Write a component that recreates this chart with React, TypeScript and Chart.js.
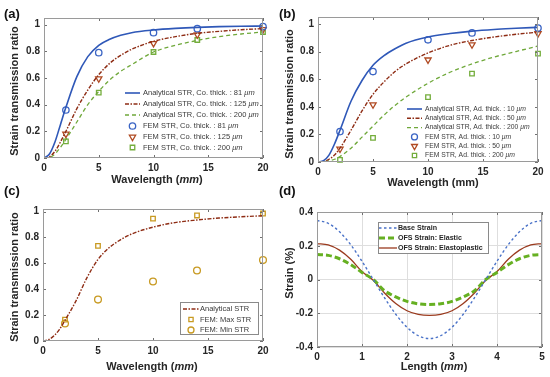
import React, { useEffect, useRef } from 'react';
import { Chart, registerables } from 'chart.js';
import { drawPoint } from 'chart.js/helpers';
Chart.register(...registerables);

const FONT = '"Liberation Sans", Arial, sans-serif';

// ---------- shared axes ----------
const wlCurve = [0, 0.5, 1, 1.5, 2, 3, 4, 5, 6, 7, 8, 10, 12, 14, 16, 18, 20];
const wlFem = [2, 5, 10, 14, 20];
const wlTicks = [0, 5, 10, 15, 20];
const strTicks = [0, 0.2, 0.4, 0.6, 0.8, 1];

// ---------- panel (a): coating thickness ----------
const aStr81 = [0, 0.03, 0.12, 0.25, 0.38, 0.61, 0.76, 0.845, 0.89, 0.92, 0.94, 0.96, 0.972, 0.98, 0.985, 0.988, 0.99];
const aStr125 = [0, 0.01, 0.05, 0.12, 0.2, 0.37, 0.51, 0.625, 0.71, 0.77, 0.815, 0.875, 0.91, 0.935, 0.95, 0.962, 0.97];
const aStr200 = [0, 0.005, 0.03, 0.08, 0.14, 0.27, 0.4, 0.5, 0.585, 0.65, 0.7, 0.795, 0.845, 0.882, 0.91, 0.93, 0.945];
const aFem81 = [0.36, 0.79, 0.94, 0.97, 0.985];
const aFem125 = [0.18, 0.595, 0.86, 0.925, 0.965];
const aFem200 = [0.125, 0.49, 0.795, 0.885, 0.945];

// ---------- panel (b): adhesive thickness ----------
const bStr10 = [0, 0.01, 0.05, 0.13, 0.23, 0.44, 0.59, 0.7, 0.77, 0.82, 0.86, 0.905, 0.93, 0.948, 0.96, 0.968, 0.975];
const bStr50 = [0, 0.003, 0.02, 0.05, 0.1, 0.23, 0.37, 0.49, 0.58, 0.655, 0.71, 0.79, 0.845, 0.88, 0.905, 0.925, 0.94];
const bStr200 = [0, 0.002, 0.01, 0.02, 0.04, 0.1, 0.18, 0.26, 0.34, 0.41, 0.47, 0.57, 0.65, 0.71, 0.76, 0.8, 0.84];
const bFem10 = [0.22, 0.655, 0.885, 0.935, 0.97];
const bFem50 = [0.095, 0.415, 0.74, 0.85, 0.93];
const bFem200 = [0.015, 0.175, 0.47, 0.64, 0.785];

// ---------- panel (c): max / min STR ----------
const cStr = [0, 0.01, 0.04, 0.09, 0.16, 0.31, 0.49, 0.63, 0.72, 0.78, 0.825, 0.88, 0.915, 0.935, 0.95, 0.96, 0.968];
const cFemMax = [0.165, 0.735, 0.945, 0.97, 0.985];
const cFemMin = [0.135, 0.32, 0.46, 0.545, 0.625];

// ---------- panel (d): strain along length ----------
const lenX = [0, 0.25, 0.5, 0.75, 1, 1.25, 1.5, 1.75, 2, 2.25, 2.5, 2.75, 3, 3.25, 3.5, 3.75, 4, 4.25, 4.5, 4.75, 5];
const dBase = [0.35, 0.333, 0.283, 0.206, 0.108, 0, -0.108, -0.206, -0.283, -0.333, -0.35, -0.333, -0.283, -0.206, -0.108, 0, 0.108, 0.206, 0.283, 0.333, 0.35];
const dElastic = [0.148, 0.143, 0.123, 0.088, 0.042, 0, -0.066, -0.103, -0.13, -0.144, -0.148, -0.144, -0.13, -0.103, -0.066, 0, 0.042, 0.088, 0.123, 0.143, 0.148];
const dElastoplastic = [0.213, 0.205, 0.174, 0.12, 0.047, -0.005, -0.08, -0.142, -0.185, -0.207, -0.213, -0.207, -0.185, -0.142, -0.08, -0.005, 0.047, 0.12, 0.174, 0.205, 0.213];
const lenTicks = [0, 1, 2, 3, 4, 5];
const strainTicks = [-0.4, -0.2, 0, 0.2, 0.4];

// ---------- styles ----------
const BLUE = '#2f58b8';
const BLUE_M = '#3a64c4';
const RED = '#8e2c14';
const RED_M = '#b04a22';
const GREEN = '#6fa83a';
const GREEN_M = '#74ad3c';
const GOLD = '#c89a22';
const TXT = '#262626';

const zip = (xs: number[], ys: number[]) => xs.map((x, i) => ({ x, y: ys[i] }));

type Seg = { t: string; i?: boolean };
type LItem = {
  line?: { color: string; width: number; dash: number[] };
  point?: { color: string; style: string; rotation?: number; radius: number };
  text: Seg[];
};
type Spec = {
  xTitle: Seg[];
  xTitleAt: [number, number];
  yTitle: string;
  yTitleAt: [number, number];
  titleSize: number;
  legend: {
    items: LItem[];
    x0: number;
    x1: number;
    textX: number;
    rows: number[];
    size: number;
    bold: boolean;
    color: string;
    box?: [number, number, number, number];
  };
};

function drawSegs(ctx: CanvasRenderingContext2D, segs: Seg[], x: number, y: number, size: number, bold: boolean, center: boolean, color: string) {
  const fonts = segs.map((s) => `${s.i ? 'italic ' : ''}${bold ? 'bold ' : ''}${size}px ${FONT}`);
  let total = 0;
  const ws = segs.map((s, k) => {
    ctx.font = fonts[k];
    const w = ctx.measureText(s.t).width;
    total += w;
    return w;
  });
  let cx = center ? x - total / 2 : x;
  ctx.textBaseline = 'middle';
  ctx.textAlign = 'left';
  ctx.fillStyle = color;
  segs.forEach((s, k) => {
    ctx.font = fonts[k];
    ctx.fillText(s.t, cx, y);
    cx += ws[k];
  });
}

function overlay(spec: Spec) {
  return {
    id: 'overlay',
    afterDraw(chart: any) {
      const { ctx, chartArea: a, scales } = chart;
      ctx.save();
      // inward ticks on all four sides
      ctx.strokeStyle = '#707070';
      ctx.lineWidth = 1;
      ctx.setLineDash([]);
      ctx.beginPath();
      scales.x.ticks.forEach((t: any) => {
        const px = Math.round(scales.x.getPixelForValue(t.value)) + 0.5;
        ctx.moveTo(px, a.bottom);
        ctx.lineTo(px, a.bottom - 3);
        ctx.moveTo(px, a.top);
        ctx.lineTo(px, a.top + 3);
      });
      scales.y.ticks.forEach((t: any) => {
        const py = Math.round(scales.y.getPixelForValue(t.value)) + 0.5;
        ctx.moveTo(a.left, py);
        ctx.lineTo(a.left + 3, py);
        ctx.moveTo(a.right, py);
        ctx.lineTo(a.right - 3, py);
      });
      ctx.stroke();
      // box
      ctx.strokeStyle = '#9a9a9a';
      ctx.strokeRect(Math.round(a.left) + 0.5, Math.round(a.top) + 0.5, Math.round(a.right - a.left) - 1, Math.round(a.bottom - a.top) - 1);
      // titles
      drawSegs(ctx, spec.xTitle, spec.xTitleAt[0], spec.xTitleAt[1], spec.titleSize, true, true, TXT);
      ctx.save();
      ctx.translate(spec.yTitleAt[0], spec.yTitleAt[1]);
      ctx.rotate(-Math.PI / 2);
      drawSegs(ctx, [{ t: spec.yTitle }], 0, 0, spec.titleSize, true, true, TXT);
      ctx.restore();
      // legend
      const L = spec.legend;
      if (L.box) {
        const [bx, by, bw, bh] = L.box;
        ctx.fillStyle = '#ffffff';
        ctx.fillRect(bx, by, bw, bh);
        ctx.strokeStyle = '#8a8a8a';
        ctx.lineWidth = 1;
        ctx.strokeRect(bx + 0.5, by + 0.5, bw, bh);
      }
      L.items.forEach((it, k) => {
        const y = L.rows[k];
        if (it.line) {
          ctx.strokeStyle = it.line.color;
          ctx.lineWidth = it.line.width;
          ctx.setLineDash(it.line.dash);
          ctx.beginPath();
          ctx.moveTo(L.x0, y);
          ctx.lineTo(L.x1, y);
          ctx.stroke();
        }
        if (it.point) {
          ctx.setLineDash([]);
          ctx.strokeStyle = it.point.color;
          ctx.fillStyle = 'rgba(0,0,0,0)';
          ctx.lineWidth = 1.3;
          drawPoint(ctx, { pointStyle: it.point.style as any, rotation: it.point.rotation || 0, radius: it.point.radius, borderWidth: 1.3 }, (L.x0 + L.x1) / 2, y);
        }
        ctx.setLineDash([]);
        drawSegs(ctx, it.text, L.textX, y, L.size, L.bold, false, L.color);
      });
      ctx.restore();
    },
  };
}

const lineDs = (label: string, xs: number[], ys: number[], color: string, width: number, dash: number[]) => ({
  label,
  data: zip(xs, ys),
  borderColor: color,
  borderWidth: width,
  borderDash: dash,
  pointRadius: 0,
  fill: false,
  cubicInterpolationMode: 'monotone' as const,
});

const pointDs = (label: string, xs: number[], ys: number[], color: string, style: string, radius: number, rotation = 0) => ({
  label,
  data: zip(xs, ys),
  showLine: false,
  borderColor: color,
  pointStyle: style,
  pointRadius: radius,
  pointRotation: rotation,
  pointBorderColor: color,
  pointBackgroundColor: 'rgba(0,0,0,0)',
  pointBorderWidth: 1.3,
  clip: false,
});

const tickFont = { family: FONT, size: 10, weight: 'bold' as const };

function axes(xmin: number, xmax: number, xt: number[], ymin: number, ymax: number, yt: number[], grid: boolean) {
  const g = { display: grid, color: '#dedede', drawTicks: false, lineWidth: 1 };
  return {
    x: {
      type: 'linear' as const,
      min: xmin,
      max: xmax,
      afterBuildTicks: (ax: any) => {
        ax.ticks = xt.map((v) => ({ value: v }));
      },
      afterFit: (s: any) => {
        s.height = 20;
      },
      grid: g,
      border: { display: false },
      ticks: { font: tickFont, color: TXT, padding: 4, maxRotation: 0, autoSkip: false, callback: (v: any) => String(v) },
    },
    y: {
      type: 'linear' as const,
      min: ymin,
      max: ymax,
      afterBuildTicks: (ax: any) => {
        ax.ticks = yt.map((v) => ({ value: v }));
      },
      afterFit: (s: any) => {
        s.width = 30;
      },
      grid: g,
      border: { display: false },
      ticks: { font: tickFont, color: TXT, padding: 4, autoSkip: false, callback: (v: any) => String(v) },
    },
  };
}

function baseOptions(padding: any, scales: any) {
  return {
    animation: false as const,
    responsive: false,
    maintainAspectRatio: false,
    events: [],
    layout: { padding },
    plugins: { legend: { display: false }, tooltip: { enabled: false }, title: { display: false } },
    scales,
  };
}

const um: Seg = { t: 'μm', i: true };

function configA() {
  const spec: Spec = {
    xTitle: [{ t: 'Wavelength (' }, { t: 'mm', i: true }, { t: ')' }],
    xTitleAt: [157, 180],
    yTitle: 'Strain transmission ratio',
    yTitleAt: [15, 91],
    titleSize: 11,
    legend: {
      x0: 125, x1: 140, textX: 143, rows: [93, 104, 115, 126, 137, 147.5], size: 7.5, bold: false, color: '#3a3a3a',
      items: [
        { line: { color: BLUE, width: 1.6, dash: [] }, text: [{ t: 'Analytical STR, Co. thick. : 81 ' }, um] },
        { line: { color: RED, width: 1.4, dash: [4, 1.5, 1.5, 1.5] }, text: [{ t: 'Analytical STR, Co. thick. : 125 ' }, um] },
        { line: { color: GREEN, width: 1.3, dash: [4, 3] }, text: [{ t: 'Analytical STR, Co. thick. : 200 ' }, um] },
        { point: { color: BLUE_M, style: 'circle', radius: 3.2 }, text: [{ t: 'FEM STR, Co. thick. : 81 ' }, um] },
        { point: { color: RED_M, style: 'triangle', rotation: 180, radius: 3.6 }, text: [{ t: 'FEM STR, Co. thick. : 125 ' }, um] },
        { point: { color: GREEN_M, style: 'rect', radius: 3.2 }, text: [{ t: 'FEM STR, Co. thick. : 200 ' }, um] },
      ],
    },
  };
  return {
    type: 'line' as const,
    data: {
      datasets: [
        lineDs('Analytical STR, Co. thick. : 81 μm', wlCurve, aStr81, BLUE, 1.6, []),
        lineDs('Analytical STR, Co. thick. : 125 μm', wlCurve, aStr125, RED, 1.4, [4, 1.5, 1.5, 1.5]),
        lineDs('Analytical STR, Co. thick. : 200 μm', wlCurve, aStr200, GREEN, 1.3, [4, 3]),
        pointDs('FEM STR, Co. thick. : 81 μm', wlFem, aFem81, BLUE_M, 'circle', 3.2),
        pointDs('FEM STR, Co. thick. : 125 μm', wlFem, aFem125, RED_M, 'triangle', 3.6, 180),
        pointDs('FEM STR, Co. thick. : 200 μm', wlFem, aFem200, GREEN_M, 'rect', 3.2),
      ],
    },
    options: baseOptions({ left: 14, right: 12, top: 18, bottom: 10 }, axes(0, 20, wlTicks, 0, 1.05, strTicks, false)),
    plugins: [overlay(spec)],
  };
}

function configB() {
  const spec: Spec = {
    xTitle: [{ t: 'Wavelength (mm)' }],
    xTitleAt: [158, 183],
    yTitle: 'Strain transmission ratio',
    yTitleAt: [15, 94],
    titleSize: 11,
    legend: {
      x0: 132, x1: 147, textX: 150, rows: [109, 118.3, 127.6, 136.9, 146.2, 155.5], size: 6.8, bold: false, color: '#3a3a3a',
      items: [
        { line: { color: BLUE, width: 1.6, dash: [] }, text: [{ t: 'Analytical STR, Ad. thick. : 10 ' }, um] },
        { line: { color: RED, width: 1.4, dash: [4, 1.5, 1.5, 1.5] }, text: [{ t: 'Analytical STR, Ad. thick. : 50 ' }, um] },
        { line: { color: GREEN, width: 1.3, dash: [4, 3] }, text: [{ t: 'Analytical STR, Ad. thick. : 200 ' }, um] },
        { point: { color: BLUE_M, style: 'circle', radius: 3 }, text: [{ t: 'FEM STR, Ad. thick. : 10 ' }, um] },
        { point: { color: RED_M, style: 'triangle', rotation: 180, radius: 3.4 }, text: [{ t: 'FEM STR, Ad. thick. : 50 ' }, um] },
        { point: { color: GREEN_M, style: 'rect', radius: 3 }, text: [{ t: 'FEM STR, Ad. thick. : 200 ' }, um] },
      ],
    },
  };
  return {
    type: 'line' as const,
    data: {
      datasets: [
        lineDs('Analytical STR, Ad. thick. : 10 μm', wlCurve, bStr10, BLUE, 1.6, []),
        lineDs('Analytical STR, Ad. thick. : 50 μm', wlCurve, bStr50, RED, 1.4, [4, 1.5, 1.5, 1.5]),
        lineDs('Analytical STR, Ad. thick. : 200 μm', wlCurve, bStr200, GREEN, 1.3, [4, 3]),
        pointDs('FEM STR, Ad. thick. : 10 μm', wlFem, bFem10, BLUE_M, 'circle', 3.2),
        pointDs('FEM STR, Ad. thick. : 50 μm', wlFem, bFem50, RED_M, 'triangle', 3.6, 180),
        pointDs('FEM STR, Ad. thick. : 200 μm', wlFem, bFem200, GREEN_M, 'rect', 3.2),
      ],
    },
    options: baseOptions({ left: 13, right: 12, top: 17, bottom: 6 }, axes(0, 20, wlTicks, 0, 1.05, strTicks, false)),
    plugins: [overlay(spec)],
  };
}

function configC() {
  const spec: Spec = {
    xTitle: [{ t: 'Wavelength (' }, { t: 'mm', i: true }, { t: ')' }],
    xTitleAt: [152, 179],
    yTitle: 'Strain transmission ratio',
    yTitleAt: [15, 89],
    titleSize: 11,
    legend: {
      x0: 183, x1: 199, textX: 200, rows: [121, 131.5, 142], size: 7.5, bold: false, color: '#3a3a3a',
      box: [180, 114, 78, 32],
      items: [
        { line: { color: RED, width: 1.4, dash: [4, 1.5, 1.5, 1.5] }, text: [{ t: 'Analytical STR' }] },
        { point: { color: GOLD, style: 'rect', radius: 3 }, text: [{ t: 'FEM: Max STR' }] },
        { point: { color: GOLD, style: 'circle', radius: 3 }, text: [{ t: 'FEM: Min STR' }] },
      ],
    },
  };
  return {
    type: 'line' as const,
    data: {
      datasets: [
        lineDs('Analytical STR', wlCurve, cStr, RED, 1.4, [4, 1.5, 1.5, 1.5]),
        pointDs('FEM: Max STR', wlFem, cFemMax, GOLD, 'rect', 3.2),
        pointDs('FEM: Min STR', wlFem, cFemMin, GOLD, 'circle', 3.4),
      ],
    },
    options: baseOptions({ left: 13, right: 12, top: 21, bottom: 16 }, axes(0, 20, wlTicks, 0, 1.02, strTicks, false)),
    plugins: [overlay(spec)],
  };
}

function configD() {
  const spec: Spec = {
    xTitle: [{ t: 'Length (' }, { t: 'mm', i: true }, { t: ')' }],
    xTitleAt: [159, 179],
    yTitle: 'Strain (%)',
    yTitleAt: [15, 85],
    titleSize: 11,
    legend: {
      x0: 104, x1: 122, textX: 123, rows: [40, 50, 60], size: 7.1, bold: true, color: TXT,
      box: [103, 34, 110, 31],
      items: [
        { line: { color: '#4a72c8', width: 1.4, dash: [2.5, 2.5] }, text: [{ t: 'Base Strain' }] },
        { line: { color: '#66b022', width: 3, dash: [6, 3] }, text: [{ t: 'OFS Strain: Elastic' }] },
        { line: { color: '#9a3a1e', width: 1.3, dash: [] }, text: [{ t: 'OFS Strain: Elastoplastic' }] },
      ],
    },
  };
  return {
    type: 'line' as const,
    data: {
      datasets: [
        lineDs('Base Strain', lenX, dBase, '#4a72c8', 1.4, [2.5, 2.5]),
        lineDs('OFS Strain: Elastic', lenX, dElastic, '#66b022', 3, [6, 3]),
        lineDs('OFS Strain: Elastoplastic', lenX, dElastoplastic, '#9a3a1e', 1.3, []),
      ],
    },
    options: baseOptions({ left: 12, right: 8, top: 24, bottom: 10 }, axes(0, 5, lenTicks, -0.4, 0.4, strainTicks, true)),
    plugins: [overlay(spec)],
  };
}

function Panel({ make, left, top, w, h }: { make: () => any; left: number; top: number; w: number; h: number }) {
  const ref = useRef<HTMLCanvasElement | null>(null);
  useEffect(() => {
    if (!ref.current) return;
    const chart = new Chart(ref.current, make());
    return () => chart.destroy();
  }, [make]);
  return (
    <canvas ref={ref} width={w} height={h} style={{ position: 'absolute', left, top, width: w, height: h }} />
  );
}

const labelStyle = (left: number, top: number): React.CSSProperties => ({
  position: 'absolute',
  left,
  top,
  font: `bold 13px ${FONT}`,
  lineHeight: '13px',
  color: '#111',
});

export default function App() {
  return (
    <div style={{ position: 'fixed', left: 0, top: 0, width: 550, height: 377, background: '#fff', overflow: 'hidden' }}>
      <Panel make={configA} left={0} top={0} w={275} h={188} />
      <Panel make={configB} left={275} top={0} w={275} h={188} />
      <Panel make={configC} left={0} top={188} w={275} h={189} />
      <Panel make={configD} left={275} top={188} w={275} h={189} />
      <div style={labelStyle(4, 7)}>(a)</div>
      <div style={labelStyle(279, 7)}>(b)</div>
      <div style={labelStyle(4, 184)}>(c)</div>
      <div style={labelStyle(279, 184)}>(d)</div>
    </div>
  );
}
